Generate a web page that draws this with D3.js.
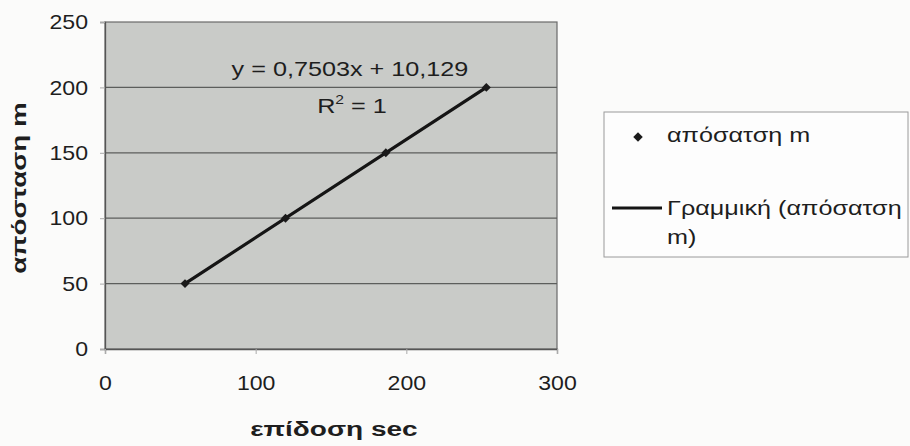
<!DOCTYPE html>
<html>
<head>
<meta charset="utf-8">
<script src="https://cdn.jsdelivr.net/npm/d3@7"></script>
<style>
  html, body { margin: 0; padding: 0; background: #fbfbfa; }
  svg { display: block; }
  text { font-family: "Liberation Sans", Arial, sans-serif; fill: #1e1e1e; }
</style>
</head>
<body>
<svg id="chart" width="910" height="446"></svg>
<script>
// Measured performance (sec) and distance (m)
const timeSec = [53.1, 119.8, 186.4, 253.1];
const distanceM = [50, 100, 150, 200];

const xTicks = [0, 100, 200, 300];
const yTicks = [0, 50, 100, 150, 200, 250];

const xTitle = "επίδοση sec";
const yTitle = "απόσταση m";
const seriesName = "απόσατση m";
const trendName = ["Γραμμική (απόσατση", "m)"];
const equationText = "y = 0,7503x + 10,129";

const svg = d3.select("#chart");

// widen glyphs horizontally by a factor (the type is set slightly extended)
function widen(sel, factor) {
  sel.each(function () {
    const w = this.getComputedTextLength();
    d3.select(this).attr("textLength", w * factor).attr("lengthAdjust", "spacingAndGlyphs");
  });
  return sel;
}

const plot = { left: 105, right: 557, top: 22, bottom: 349 };

const x = d3.scaleLinear().domain([0, 300]).range([plot.left, plot.right]);
const y = d3.scaleLinear().domain([0, 250]).range([plot.bottom, plot.top]);

// plot area
svg.append("rect")
  .attr("x", plot.left).attr("y", plot.top)
  .attr("width", plot.right - plot.left).attr("height", plot.bottom - plot.top)
  .attr("fill", "#c9cbc8")
  .attr("stroke", "#6a6a6a").attr("stroke-width", 1.2);

// horizontal gridlines
svg.append("g").selectAll("line")
  .data(yTicks.filter(v => v > 0 && v < 250))
  .join("line")
  .attr("x1", plot.left).attr("x2", plot.right)
  .attr("y1", d => y(d)).attr("y2", d => y(d))
  .attr("stroke", "#5c5e5c").attr("stroke-width", 1.3);

// y axis
const yAxis = svg.append("g")
  .attr("transform", `translate(${plot.left},0)`)
  .call(d3.axisLeft(y).tickValues(yTicks).tickSize(5).tickPadding(12).tickFormat(d3.format("d")));
yAxis.select(".domain").attr("stroke", "#555").attr("stroke-width", 1.3);
yAxis.selectAll(".tick line").attr("stroke", "#aaa");
yAxis.selectAll("text").attr("font-size", 21).attr("fill", "#1e1e1e")
  .attr("font-family", "'Liberation Sans', Arial, sans-serif");
widen(yAxis.selectAll("text"), 1.1);

// x axis
const xAxis = svg.append("g")
  .attr("transform", `translate(0,${plot.bottom})`)
  .call(d3.axisBottom(x).tickValues(xTicks).tickSize(5).tickPadding(21).tickFormat(d3.format("d")));
xAxis.select(".domain").attr("stroke", "#555").attr("stroke-width", 1.3);
xAxis.selectAll(".tick line").attr("stroke", "#aaa");
xAxis.selectAll("text").attr("font-size", 21).attr("fill", "#1e1e1e")
  .attr("font-family", "'Liberation Sans', Arial, sans-serif");
widen(xAxis.selectAll("text"), 1.1);

// trend line across the data range
const pts = timeSec.map((t, i) => [t, distanceM[i]]);
svg.append("path")
  .datum([pts[0], pts[pts.length - 1]])
  .attr("d", d3.line().x(d => x(d[0])).y(d => y(d[1])))
  .attr("stroke", "#151515").attr("stroke-width", 3.2).attr("fill", "none")
  .attr("stroke-linecap", "round");

// data markers (square diamonds)
const diamond = d3.symbol().type(d3.symbolSquare).size(40);
svg.append("g").selectAll("path")
  .data(pts)
  .join("path")
  .attr("d", diamond)
  .attr("transform", d => `translate(${x(d[0])},${y(d[1])}) rotate(45)`)
  .attr("fill", "#1a1a1a");

// regression annotation
widen(svg.append("text")
  .attr("x", 350).attr("y", 76)
  .attr("text-anchor", "middle")
  .attr("font-size", 21)
  .text(equationText), 1.2);
const r2 = svg.append("text")
  .attr("x", 352).attr("y", 113)
  .attr("text-anchor", "middle")
  .attr("font-size", 21);
r2.append("tspan").text("R");
r2.append("tspan").attr("font-size", 13).attr("dy", -9).text("2");
r2.append("tspan").attr("dy", 9).text(" = 1");
widen(r2, 1.2);

// axis titles
widen(svg.append("text")
  .attr("x", 334).attr("y", 436)
  .attr("text-anchor", "middle")
  .attr("font-size", 20).attr("font-weight", "bold")
  .text(xTitle), 1.4);
widen(svg.append("text")
  .attr("transform", "translate(26,188) rotate(-90)")
  .attr("text-anchor", "middle")
  .attr("font-size", 20).attr("font-weight", "bold")
  .text(yTitle), 1.39);

// legend
const lg = svg.append("g");
lg.append("rect")
  .attr("x", 604).attr("y", 112).attr("width", 304).attr("height", 145)
  .attr("fill", "#fdfdfd").attr("stroke", "#9a9a9a").attr("stroke-width", 1);
lg.append("path")
  .attr("d", d3.symbol().type(d3.symbolSquare).size(45))
  .attr("transform", "translate(638,137) rotate(45)")
  .attr("fill", "#1a1a1a");
widen(lg.append("text").attr("x", 667).attr("y", 142).attr("font-size", 21).text(seriesName), 1.2);
lg.append("line")
  .attr("x1", 612).attr("x2", 662).attr("y1", 208).attr("y2", 208)
  .attr("stroke", "#151515").attr("stroke-width", 3.2);
widen(lg.selectAll("text.tr")
  .data(trendName)
  .join("text")
  .attr("class", "tr")
  .attr("x", 667).attr("y", (d, i) => 215 + i * 29)
  .attr("font-size", 21)
  .text(d => d), 1.2);
</script>
</body>
</html>
